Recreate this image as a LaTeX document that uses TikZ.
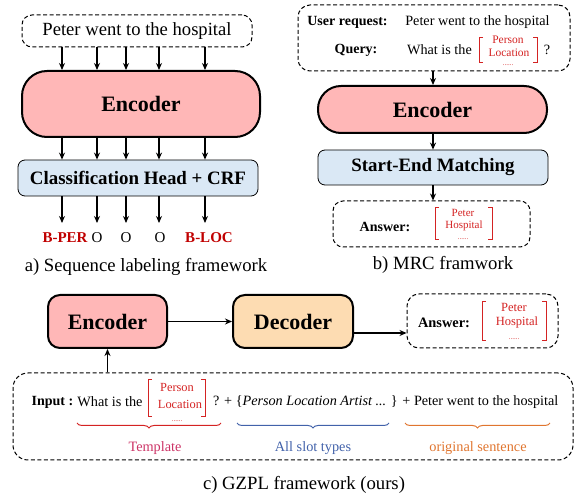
\documentclass[tikz,border=0pt]{standalone}
\usepackage{fontspec}
\setmainfont{Liberation Serif}
\usetikzlibrary{arrows.meta,decorations.pathreplacing}
\newcommand{\myfs}[1]{\fontsize{#1}{#1}\selectfont}
\definecolor{encpink}{HTML}{FFB7B7}
\definecolor{clsblue}{HTML}{DAE8F5}
\definecolor{decorange}{HTML}{FDDCB2}
\definecolor{brred}{HTML}{D42323}
\definecolor{lblred}{HTML}{C00000}
\definecolor{tplred}{HTML}{CC3366}
\definecolor{slotblue}{HTML}{4262AA}
\definecolor{origorange}{HTML}{E0752F}
\tikzset{
  dbox/.style={draw=black, line width=1pt, dash pattern=on 4pt off 2.5pt, rounded corners=10pt, inner sep=0pt},
  encbox/.style={draw=black, line width=2pt, fill=encpink, inner sep=0pt, font=\bfseries\myfs{22}},
  bluebox/.style={draw=black, line width=0.8pt, fill=clsblue, rounded corners=7pt, inner sep=0pt, font=\bfseries\myfs{18.9}},
  arr/.style={line width=1.2pt, -{Stealth[length=7pt,width=6pt]}},
  captxt/.style={font=\myfs{18.7}, inner sep=0pt},
  txt/.style={font=\myfs{14.2}, inner sep=0pt},
  btxt/.style={font=\bfseries\myfs{14}, inner sep=0pt},
  rtxt/.style={font=\myfs{11.5}, text=brred, inner sep=0pt},
  lbl/.style={font=\bfseries\myfs{15}, text=lblred, inner sep=0pt},
  olbl/.style={font=\myfs{15}, inner sep=0pt},
  brk/.style={draw=brred, line width=1pt},
  brc/.style={line width=1pt, decorate, decoration={brace, mirror, amplitude=5pt}},
}
\begin{document}
\begin{tikzpicture}[x=1pt,y=-1pt]
\useasboundingbox (0,0) rectangle (574,497);

% ---------------- a) ----------------
\node[dbox, minimum width=230pt, minimum height=32pt, font=\myfs{18.6}] (ta) at (137,31) {Peter went to the hospital};
\node[encbox, rounded corners=25pt, minimum width=238pt, minimum height=66pt] (ea) at (141,104) {Encoder};
\node[bluebox, minimum width=240pt, minimum height=36pt] (cls) at (138,178) {Classification Head + CRF};
\foreach \i/\x in {1/62,2/97,3/126,4/159,5/205}{
  \coordinate (ax\i) at (\x,0);
  \coordinate (ae\i) at (\x,223);
  \draw[arr] (ta.south -| ax\i) -- (ea.north -| ax\i);
  \draw[arr] (ea.south -| ax\i) -- (cls.north -| ax\i);
  \draw[arr] (cls.south -| ax\i) -- (ae\i);
}
\node[lbl] (l1) at (65,238) {B-PER};
\node[olbl] (l2) at (97,238) {O};
\node[olbl] (l3) at (126,238) {O};
\node[olbl] (l4) at (160,238) {O};
\node[lbl] (l5) at (209,238) {B-LOC};
\node[captxt] (capa) at (146,267) {a) Sequence labeling framework};

% ---------------- b) ----------------
\node[dbox, rounded corners=12pt, minimum width=272pt, minimum height=66pt] (tb) at (434,38) {};
\node[btxt] (ur) at (347.5,22) {User request:};
\node[txt] (urt) at (477.5,22) {Peter went to the hospital};
\node[btxt] (qu) at (356,50) {Query:};
\node[txt] (qut) at (439.5,50) {What is the};
\draw[brk] (483,38) -- (479,38) -- (479,63) -- (483,63);
\draw[brk] (533,38) -- (537,38) -- (537,63) -- (533,63);
\node[rtxt] (bp1) at (508,40) {Person};
\node[rtxt] (bp2) at (509,52.5) {Location};
\node[rtxt, font=\myfs{7}] (bp3) at (508,65) {......};
\node[txt] (qm) at (547,50) {?};
\node[encbox, rounded corners=23pt, minimum width=229pt, minimum height=47pt] (eb) at (432.5,109.5) {Encoder};
\node[bluebox, minimum width=230pt, minimum height=35pt] (sem) at (433,167.5) {Start-End Matching};
\node[dbox, minimum width=197pt, minimum height=46pt] (ansb) at (431.5,224) {};
\node[btxt] (ansbt) at (385,227) {Answer:};
\draw[brk] (439,208) -- (435,208) -- (435,240) -- (439,240);
\draw[brk] (488,208) -- (492,208) -- (492,240) -- (488,240);
\node[rtxt, font=\myfs{11}] (bap1) at (463,212.5) {Peter};
\node[rtxt, font=\myfs{11}] (bap2) at (464,226) {Hospital};
\node[rtxt, font=\myfs{7}] (bap3) at (463,239) {......};
\coordinate (bx) at (433,0);
\draw[arr] (tb.south -| bx) -- (eb.north -| bx);
\draw[arr] (eb.south -| bx) -- (sem.north -| bx);
\draw[arr] (sem.south -| bx) -- (ansb.north -| bx);
\node[captxt] (capb) at (443,265) {b) MRC framwork};

% ---------------- c) ----------------
\node[encbox, rounded corners=12pt, minimum width=119pt, minimum height=53pt] (ec) at (107.5,321.5) {Encoder};
\node[encbox, fill=decorange, rounded corners=12pt, minimum width=120pt, minimum height=53pt] (dc) at (293,321.5) {Decoder};
\node[dbox, rounded corners=12pt, minimum width=151pt, minimum height=54pt] (ansc) at (482.5,321) {};
\node[btxt, font=\bfseries\myfs{14.4}] (ansct) at (444,323) {Answer:};
\draw[brk] (486,302) -- (482,302) -- (482,341) -- (486,341);
\draw[brk] (542,302) -- (546,302) -- (546,341) -- (542,341);
\node[rtxt, font=\myfs{12.5}] (cap1) at (514,307.5) {Peter};
\node[rtxt, font=\myfs{12.5}] (cap2) at (517,322) {Hospital};
\node[rtxt, font=\myfs{7}] (cap3) at (514,339) {......};
\node[dbox, rounded corners=15pt, minimum width=560pt, minimum height=87pt] (inp) at (293,416.5) {};
\node[btxt] (inpt) at (52.5,402) {Input :};
\node[txt, font=\myfs{14.3}] (wit) at (110,402) {What is the};
\draw[brk] (152,380) -- (148,380) -- (148,417) -- (152,417);
\draw[brk] (201,380) -- (205,380) -- (205,417) -- (201,417);
\node[rtxt, font=\myfs{12.4}] (ip1) at (177,388) {Person};
\node[rtxt, font=\myfs{12.4}] (ip2) at (180,404) {Location};
\node[rtxt, font=\myfs{7}] (ip3) at (177,421) {......};
\node[txt, anchor=west] (rest) at (213,402) {? + \{\textit{Person Location Artist ...} \} + Peter went to the hospital};
\draw[brc, draw=brred] (77,423) -- (221,423);
\draw[brc, draw=slotblue] (237,423) -- (389,423);
\draw[brc, draw=origorange] (405,423) -- (550,423);
\node[txt, font=\myfs{14.3}, text=tplred] (tpl) at (155,448) {Template};
\node[txt, font=\myfs{14.3}, text=slotblue] (slt) at (313,448) {All slot types};
\node[txt, font=\myfs{14.3}, text=origorange] (ors) at (478,448) {original sentence};
\coordinate (yc) at (0,333);
\draw[arr] (ec) -- (dc);
\draw[arr] (dc.east |- yc) -- (ansc.west |- yc);
\draw[arr] (inp.north -| ec) -- (ec.south);
\node[captxt] (capc) at (304,485) {c) GZPL framework (ours)};
\end{tikzpicture}
\end{document}
